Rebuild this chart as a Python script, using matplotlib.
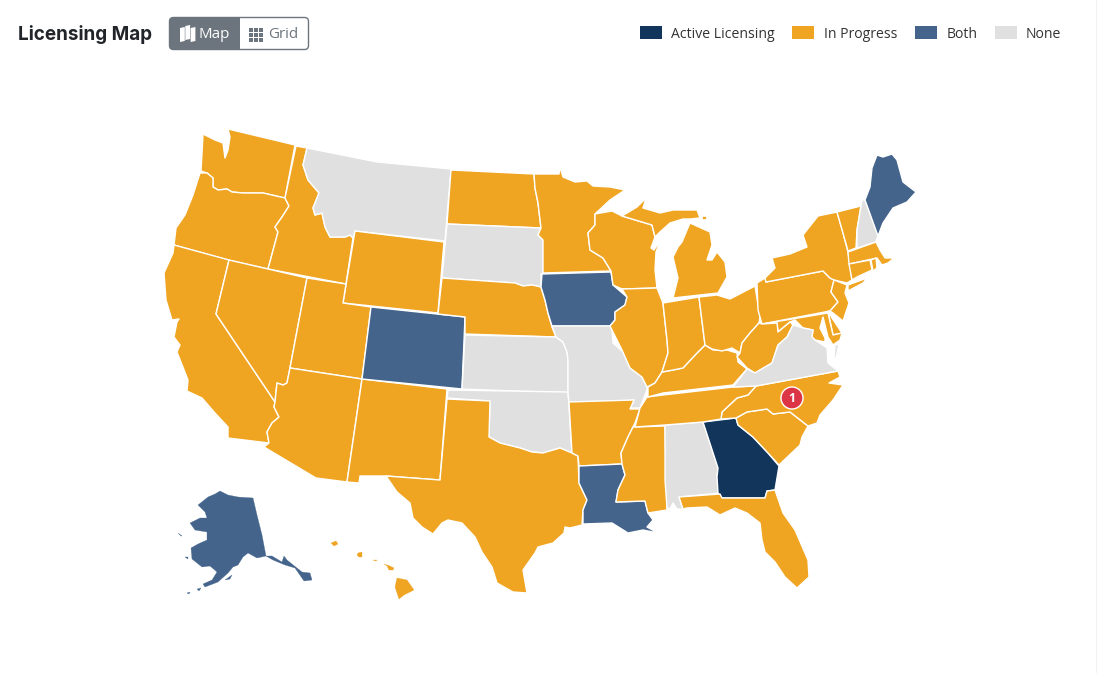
import matplotlib
matplotlib.use("Agg")
import matplotlib.pyplot as plt
from matplotlib.patches import Circle, FancyBboxPatch, Polygon, Rectangle

# status colours
COLORS = {"active": "#12355B", "progress": "#EFA522", "both": "#44648C", "none": "#E0E0E0"}
LEGEND_LABELS = ["Active Licensing", "In Progress", "Both", "None"]
LEGEND_KEYS = ["active", "progress", "both", "none"]
LEGEND_SWATCH_X = [640, 792, 915, 995]
LEGEND_TEXT_X = [671, 824, 947, 1026]

# licensing status per state
STATUS = {
    "WA": "progress", "OR": "progress", "ID": "progress", "MT": "none", "WY": "progress",
    "CA": "progress", "NV": "progress", "UT": "progress", "AZ": "progress", "NM": "progress",
    "CO": "both", "ND": "progress", "SD": "none", "NE": "progress", "KS": "none",
    "OK": "none", "TX": "progress", "MN": "progress", "IA": "both", "MO": "none",
    "AR": "progress", "LA": "both", "WI": "progress", "IL": "progress", "MS": "progress",
    "AL": "none", "GA": "active", "FL": "progress", "SC": "progress", "NC": "progress",
    "TN": "progress", "KY": "progress", "IN": "progress", "OH": "progress", "MI": "progress",
    "MI_UP": "progress", "PA": "progress", "NY": "progress", "NY_LI": "progress", "VT": "progress",
    "NH": "none", "ME": "both", "MA": "progress", "CT": "progress", "RI": "progress",
    "NJ": "progress", "DE": "progress", "MD": "progress", "WV": "progress", "VA": "none",
    "VA_ES": "none",
}
# small pieces drawn without the white border eating them
THIN_STATUS = {
    "AK": "both", "AK_PAN": "both", "AK_KOD": "both", "AK_IS1": "both", "AK_IS2": "both",
    "AK_IS3": "both", "AK_IS4": "both", "HI1": "progress", "HI2": "progress", "HI3": "progress",
    "HI4": "progress", "HI5": "progress", "MI_IS": "progress",
}

# state outlines (screen pixels)
WA = [(228,129),(295,145),(285,198),(263,193),(243,193),(232,192),(227,189),(218,190),(213,187),(213,178),(207,173),(201,171),(202,153),(203,134),(215,140),(223,143),(225,158),(228,150),(230,137)]
OR = [(200,173),(207,173),(213,178),(213,187),(218,190),(227,189),(232,192),(243,193),(263,193),(285,198),(289,206),(282,217),(275,227),(278,232),(268,269),(228,260),(174,245),(176,228),(185,215),(193,195)]
ID = [(296,146),(307,148),(303,165),(308,180),(319,193),(313,208),(315,215),(322,213),(325,227),(330,237),(345,237),(350,235),(353,238),(346,284),(268,269),(278,232),(275,227),(282,217),(289,206),(285,198)]
MT = [(307,148),(377,162),(451,169),(445,241),(355,231),(353,238),(350,235),(345,237),(330,237),(325,227),(322,213),(315,215),(313,208),(319,193),(308,180),(303,165)]
WY = [(355,231),(444,242),(438,313),(343,303)]
CA = [(174,245),(229,260),(216,314),(275,402),(274,407),(279,417),(272,423),(267,432),(269,443),(228,438),(228,427),(215,413),(202,398),(187,391),(188,380),(177,352),(180,345),(174,337),(177,322),(179,319),(172,320),(166,300),(164,273),(173,253)]
NV = [(229,260),(268,269),(307,278),(290,368),(287,383),(283,385),(277,383),(275,402),(216,314)]
UT = [(307,278),(346,284),(343,303),(371,307),(362,379),(290,368)]
AZ = [(290,368),(362,379),(347,482),(316,478),(264,447),(269,443),(267,432),(272,423),(279,417),(274,407),(275,402),(277,383),(283,385),(287,383)]
NM = [(362,379),(447,389),(440,480),(386,476),(360,476),(359,483),(347,482)]
CO = [(371,307),(465,317),(462,389),(362,379)]
ND = [(451,170),(534,174),(535,188),(538,203),(541,228),(447,224)]
SD = [(447,224),(541,228),(538,235),(543,240),(543,273),(541,274),(541,287),(532,285),(523,286),(515,283),(442,278)]
NE = [(442,278),(515,283),(523,286),(532,285),(541,287),(545,300),(548,313),(552,327),(556,337),(465,334),(465,317),(438,314)]
KS = [(465,335),(556,337),(563,342),(567,352),(568,360),(568,393),(462,389)]
OK = [(448,390),(568,392),(572,453),(560,448),(543,453),(532,452),(520,448),(512,446),(500,443),(489,437),(490,401),(447,398)]
TX = [(447,399),(490,401),(489,437),(500,443),(512,446),(520,448),(532,452),(543,453),(560,448),(572,453),(578,456),(579,483),(587,500),(583,510),(582,525),(570,528),(565,527),(564,533),(553,543),(538,547),(535,553),(523,570),(527,593),(513,592),(497,583),(492,567),(482,552),(475,537),(462,523),(448,520),(442,523),(433,534),(422,527),(413,518),(410,503),(397,492),(386,476),(440,480)]
MN = [(534,174),(559,174),(560,167),(563,177),(575,182),(587,181),(593,186),(610,187),(625,190),(610,200),(595,214),(595,225),(588,233),(590,250),(603,258),(611,271),(543,273),(543,240),(538,235),(541,228),(538,203),(535,188)]
IA = [(542,274),(611,272),(613,285),(627,297),(625,305),(615,312),(615,320),(610,326),(552,326),(548,313),(545,300),(541,287)]
MO = [(552,326),(610,326),(612,330),(613,343),(623,352),(630,368),(642,377),(647,387),(647,390),(640,408),(630,408),(634,400),(620,401),(569,402),(568,393),(568,360),(567,352),(563,342),(556,337)]
AR = [(569,402),(634,400),(630,409),(640,409),(635,423),(628,437),(621,453),(622,464),(579,466),(578,456),(572,453)]
LA = [(579,466),(622,464),(625,475),(618,490),(616,502),(645,501),(648,513),(653,520),(647,527),(658,533),(643,530),(628,533),(612,523),(583,524),(583,510),(587,500),(579,483)]
WI = [(595,214),(612,211),(622,216),(652,225),(655,237),(651,248),(654,250),(661,239),(656,252),(655,270),(657,288),(622,289),(613,285),(611,271),(603,258),(590,250),(588,233),(595,225)]
IL = [(622,289),(657,288),(663,303),(667,340),(668,353),(662,372),(655,383),(647,387),(642,377),(630,368),(622,350),(612,330),(610,326),(615,320),(615,312),(625,305),(627,297)]
MS = [(633,427),(665,426),(667,510),(648,513),(645,501),(616,502),(618,490),(625,475),(622,464),(621,453),(628,437)]
AL = [(665,425),(703,422),(718,468),(717,477),(720,493),(679,497),(683,509),(677,509),(673,503),(670,509),(667,508),(665,480)]
GA = [(703,422),(736,418),(738,425),(753,437),(768,453),(779,466),(775,490),(767,491),(765,498),(722,498),(718,493),(717,477),(718,468)]
FL = [(679,497),(720,494),(722,498),(765,498),(767,491),(775,490),(783,513),(795,530),(808,560),(809,577),(797,588),(785,577),(775,562),(765,552),(762,540),(760,523),(747,513),(735,508),(720,515),(707,507),(687,508),(683,509)]
SC = [(736,418),(747,412),(767,409),(773,414),(790,412),(808,426),(802,437),(800,445),(779,465),(768,453),(753,437),(738,425)]
NC = [(838,371),(840,377),(829,383),(843,385),(833,400),(820,415),(817,423),(808,426),(790,412),(773,414),(767,409),(747,412),(736,418),(721,419),(722,412),(737,398),(748,395),(756,386)]
TN = [(756,386),(748,395),(737,398),(722,412),(721,419),(703,422),(665,425),(635,427),(640,408),(647,397),(663,395),(733,387)]
KY = [(648,397),(648,387),(655,383),(662,372),(673,370),(683,368),(697,353),(705,345),(713,350),(727,350),(737,353),(738,362),(747,369),(733,385),(663,393)]
IN = [(663,303),(699,297),(705,345),(697,353),(683,368),(673,370),(662,372),(668,353),(667,340)]
OH = [(699,297),(717,295),(730,299),(755,286),(760,317),(759,323),(750,333),(742,343),(740,353),(732,348),(722,351),(712,349),(705,345)]
MI = [(673,298),(718,293),(727,277),(725,262),(717,252),(712,260),(707,260),(712,245),(710,232),(690,223),(687,230),(682,242),(678,247),(673,257),(678,278)]
MI_UP = [(622,216),(637,207),(646,198),(643,208),(660,213),(673,210),(697,210),(700,218),(690,219),(683,219),(670,223),(660,232),(655,237),(652,225)]
PA = [(757,283),(765,278),(766,282),(823,271),(830,278),(834,280),(831,292),(838,302),(830,311),(762,324),(758,310)]
NY = [(766,282),(765,278),(775,268),(772,258),(790,254),(807,247),(803,235),(818,216),(837,212),(843,233),(848,252),(852,280),(847,283),(834,280),(830,278),(823,271)]
NY_LI = [(848,285),(867,278),(863,283),(848,291)]
VT = [(837,212),(861,206),(857,230),(856,248),(848,251),(843,233)]
NH = [(862,200),(865,200),(878,235),(876,242),(857,248),(857,230),(861,206)]
ME = [(865,200),(870,187),(872,168),(877,155),(883,157),(892,154),(897,160),(903,182),(916,192),(907,202),(893,208),(883,223),(878,236)]
MA = [(848,252),(876,242),(880,250),(885,258),(894,258),(888,263),(882,265),(877,258),(849,264)]
CT = [(849,264),(870,260),(872,270),(857,277),(852,280)]
RI = [(871,260),(876,258),(877,268),(873,271)]
NJ = [(834,280),(847,285),(845,293),(849,303),(843,321),(833,313),(830,311),(838,302),(831,292)]
DE = [(828,311),(832,318),(842,333),(833,335)]
MD = [(762,324),(828,313),(833,335),(842,333),(840,340),(833,345),(828,337),(823,317),(820,328),(825,338),(825,342),(815,340),(812,337),(813,330),(803,328),(795,320),(790,322),(778,332),(777,323)]
WV = [(759,323),(762,324),(777,323),(778,332),(790,322),(793,325),(787,337),(778,345),(772,363),(755,373),(747,368),(737,357),(740,353),(742,343),(750,333)]
VA = [(793,325),(803,328),(813,330),(812,337),(815,340),(827,348),(828,363),(838,371),(756,386),(733,387),(747,369),(755,373),(772,363),(778,345),(787,337)]
VA_ES = [(835,345),(839,344),(836,358),(834,358)]
AK = [(220,491),(228,495),(238,497),(253,498),(257,515),(262,535),(266,556),(257,558),(248,553),(243,557),(238,565),(233,567),(228,573),(218,582),(205,587),(203,584),(212,580),(217,572),(210,566),(202,567),(192,559),(191,548),(198,544),(207,540),(207,532),(195,530),(190,523),(200,518),(207,518),(205,512),(198,505),(208,497),(215,494)]
AK_PAN = [(266,556),(272,556),(282,562),(284,556),(287,560),(302,572),(310,573),(312,580),(304,581),(295,568),(285,565),(273,560)]
AK_KOD = [(225,580),(232,575),(230,579)]
AK_IS1 = [(197,589),(201,588),(199,591)]
AK_IS2 = [(187,593),(190,592),(189,594)]
AK_IS3 = [(185,557),(188,557),(188,559)]
AK_IS4 = [(178,533),(182,536),(181,536)]
HI1 = [(331,543),(336,541),(338,544),(334,546)]
HI2 = [(358,553),(362,552),(362,557),(359,557),(357,555)]
HI3 = [(373,560),(377,560),(376,561)]
HI4 = [(384,564),(390,566),(394,568),(393,570),(389,570),(387,566)]
HI5 = [(397,578),(407,580),(414,590),(404,595),(399,599),(395,587)]
MI_IS = [(703,217),(706,217),(706,219),(703,219)]

OUTLINES = {
    "WA": WA, "OR": OR, "ID": ID, "MT": MT, "WY": WY, "CA": CA, "NV": NV, "UT": UT, "AZ": AZ,
    "NM": NM, "CO": CO, "ND": ND, "SD": SD, "NE": NE, "KS": KS, "OK": OK, "TX": TX, "MN": MN,
    "IA": IA, "MO": MO, "AR": AR, "LA": LA, "WI": WI, "IL": IL, "MS": MS, "AL": AL, "GA": GA,
    "FL": FL, "SC": SC, "NC": NC, "TN": TN, "KY": KY, "IN": IN, "OH": OH, "MI": MI, "MI_UP": MI_UP,
    "PA": PA, "NY": NY, "NY_LI": NY_LI, "VT": VT, "NH": NH, "ME": ME, "MA": MA, "CT": CT, "RI": RI,
    "NJ": NJ, "DE": DE, "MD": MD, "WV": WV, "VA": VA, "VA_ES": VA_ES,
}
THIN_OUTLINES = {
    "AK": AK, "AK_PAN": AK_PAN, "AK_KOD": AK_KOD, "AK_IS1": AK_IS1, "AK_IS2": AK_IS2,
    "AK_IS3": AK_IS3, "AK_IS4": AK_IS4, "HI1": HI1, "HI2": HI2, "HI3": HI3, "HI4": HI4,
    "HI5": HI5, "MI_IS": MI_IS,
}

# one flagged state, North Carolina
BADGE_TEXT = "1"

fig = plt.figure(figsize=(10.97, 6.73), dpi=100)
ax = fig.add_axes([0, 0, 1, 1])
ax.set_xlim(0, 1097)
ax.set_ylim(673, 0)
ax.axis("off")

# =========================
# Map
# =========================
for name, pts in OUTLINES.items():
    ax.add_patch(Polygon(pts, closed=True, facecolor=COLORS[STATUS[name]], edgecolor="white", linewidth=1.0, joinstyle="round"))
for name, pts in THIN_OUTLINES.items():
    ax.add_patch(Polygon(pts, closed=True, facecolor=COLORS[THIN_STATUS[name]], edgecolor=COLORS[THIN_STATUS[name]], linewidth=0.2))

ax.add_patch(Circle((792, 398), 11, facecolor="#DC3545", edgecolor="white", linewidth=1.0, zorder=5))
ax.text(792, 398.5, BADGE_TEXT, color="white", fontsize=9, fontweight="bold", family="Open Sans", ha="center", va="center", zorder=6)

# =========================
# Header
# =========================
ax.text(18, 34.5, "Licensing Map", fontsize=13.6, fontweight="bold", family="Inter", color="#212529", va="center")

border = FancyBboxPatch((169.5, 17.5), 139, 32, boxstyle="round,pad=0,rounding_size=4", facecolor="white", edgecolor="#6C757D", linewidth=1)
ax.add_patch(border)
active = Rectangle((169, 17), 71, 33, facecolor="#6C757D", edgecolor="none", zorder=2)
ax.add_patch(active)
active.set_clip_path(border)
ax.text(198, 35, "Map", fontsize=10.9, family="Open Sans", color="white", va="center", zorder=3)
ax.text(268, 35, "Grid", fontsize=10.9, family="Open Sans", color="#6C757D", va="center", zorder=3)

# map icon
for x0, y_top in [(180, 28), (185.3, 26), (190.6, 28)]:
    ax.add_patch(Polygon([(x0, y_top), (x0 + 4.8, y_top - 1), (x0 + 4.8, y_top + 13), (x0, y_top + 14)], facecolor="white", edgecolor="none", zorder=3))
# grid icon
for gx in (249, 254, 259):
    for gy in (28, 33, 38):
        ax.add_patch(Rectangle((gx, gy), 4, 3.6, facecolor="#6C757D", edgecolor="none", zorder=3))

# =========================
# Legend
# =========================
for label, key, sx, tx in zip(LEGEND_LABELS, LEGEND_KEYS, LEGEND_SWATCH_X, LEGEND_TEXT_X):
    ax.add_patch(Rectangle((sx, 26), 22, 13, facecolor=COLORS[key], edgecolor="none"))
    ax.text(tx, 34.5, label, fontsize=10.1, family="Open Sans", color="#333333", va="center")

# right edge of the panel
ax.plot([1096.5, 1096.5], [0, 673], color="#999999", linewidth=0.9)

fig.savefig("out.png", dpi=100)
